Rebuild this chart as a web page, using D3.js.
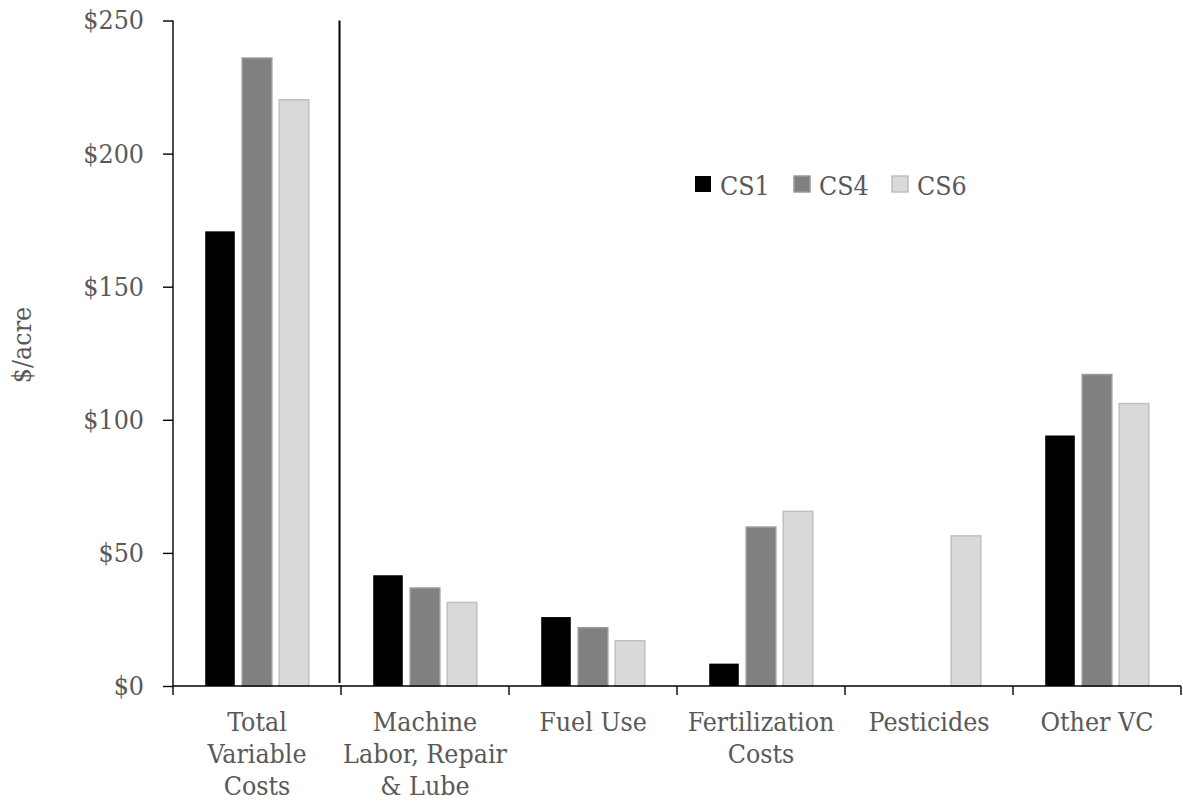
<!DOCTYPE html>
<html>
<head>
<meta charset="utf-8">
<script src="https://cdn.jsdelivr.net/npm/d3@7"></script>
<style>
  body { margin: 0; background: #fff; }
  text { font-family: "DejaVu Serif Condensed", "DejaVu Serif", serif; font-stretch: condensed; fill: #595959; }
</style>
</head>
<body>
<svg id="chart"></svg>
<script>
// data ($/acre)
var categories = ["Total Variable Costs", "Machine Labor, Repair & Lube", "Fuel Use",
                  "Fertilization Costs", "Pesticides", "Other VC"];
var labelLines = [["Total", "Variable", "Costs"], ["Machine", "Labor, Repair", "& Lube"],
                  ["Fuel Use"], ["Fertilization", "Costs"], ["Pesticides"], ["Other VC"]];
var series = ["CS1", "CS4", "CS6"];
var cs1 = [170.8, 41.6, 25.9, 8.4, 0, 94.1];
var cs4 = [235.9, 36.8, 21.9, 59.7, 0, 117.0];
var cs6 = [220.2, 31.4, 17.0, 65.6, 56.4, 106.1];
var yTicks = [0, 50, 100, 150, 200, 250];

var fills = {CS1: "#000000", CS4: "#808080", CS6: "#d9d9d9"};
var strokes = {CS1: "none", CS4: "#9a9a9a", CS6: "#bfbfbf"};
var fontSize = "26.5px";

var values = {CS1: cs1, CS4: cs4, CS6: cs6};
var rows = categories.map(function(c, i) {
  return series.map(function(s) { return {cat: c, key: s, value: values[s][i]}; });
});

var W = 1183, H = 805;
var margin = {top: 20.5, right: 2, bottom: 119, left: 173},
    width = W - margin.left - margin.right,
    height = H - margin.top - margin.bottom;

var svg = d3.select("#chart").attr("width", W).attr("height", H);
var g = svg.append("g")
  .attr("transform", "translate(" + margin.left + "," + margin.top + ")");

var x = d3.scaleBand().domain(categories).range([0, width]).padding(0);
var xs = d3.scaleBand().domain(series).range([0, x.bandwidth()])
  .paddingInner(0.2).paddingOuter(0.87);
var y = d3.scaleLinear().domain([0, 250]).range([height, 0]);

// bars
g.selectAll("g.cat")
  .data(rows)
  .enter().append("g")
    .attr("class", "cat")
    .attr("transform", function(d, i) { return "translate(" + x(categories[i]) + ",0)"; })
  .selectAll("rect")
  .data(function(d) { return d.filter(function(v) { return v.value > 0; }); })
  .enter().append("rect")
    .attr("x", function(d) { return xs(d.key); })
    .attr("y", function(d) { return y(d.value); })
    .attr("width", xs.bandwidth())
    .attr("height", function(d) { return y(0) - y(d.value); })
    .style("fill", function(d) { return fills[d.key]; })
    .style("stroke", function(d) { return strokes[d.key]; })
    .style("stroke-width", 1.5);

// y axis
var yAxis = g.append("g")
  .call(d3.axisLeft(y).tickValues(yTicks).tickSize(10).tickPadding(19)
    .tickFormat(function(d) { return "$" + d; }));
yAxis.attr("font-family", null).attr("font-size", null);
yAxis.select(".domain").attr("d", "M0," + y(250) + "V" + y(0)).attr("stroke", "#000").attr("stroke-width", 1.4);
yAxis.selectAll(".tick line").attr("stroke", "#000").attr("stroke-width", 1.4);
yAxis.selectAll(".tick text")
  .attr("font-size", fontSize)
  .attr("fill", "#595959");

// x axis: line + ticks on the category boundaries
g.append("line")
  .attr("x1", 0).attr("x2", width)
  .attr("y1", y(0)).attr("y2", y(0))
  .attr("stroke", "#000").attr("stroke-width", 1.4);
var bounds = categories.map(function(c) { return x(c); }).concat([width]);
g.selectAll("line.xtick")
  .data(bounds)
  .enter().append("line")
    .attr("class", "xtick")
    .attr("x1", function(d) { return d; }).attr("x2", function(d) { return d; })
    .attr("y1", y(0)).attr("y2", y(0) + 9)
    .attr("stroke", "#000").attr("stroke-width", 1.4);

// separator after total
g.append("line")
  .attr("x1", x(categories[1]) - 1.5).attr("x2", x(categories[1]) - 1.5)
  .attr("y1", y(250)).attr("y2", y(0) - 3)
  .attr("stroke", "#000").attr("stroke-width", 2);

// category labels
g.selectAll("text.xlab")
  .data(labelLines)
  .enter().append("text")
    .attr("class", "xlab")
    .attr("text-anchor", "middle")
    .attr("font-size", fontSize)
    .attr("transform", function(d, i) {
      return "translate(" + (x(categories[i]) + x.bandwidth() / 2) + "," + (y(0) + 45) + ")";
    })
  .selectAll("tspan")
  .data(function(d) { return d; })
  .enter().append("tspan")
    .attr("x", 0)
    .attr("y", function(d, i) { return i * 32; })
    .text(function(d) { return d; });

// y title
svg.append("text")
  .attr("transform", "translate(31,345) rotate(-90)")
  .attr("text-anchor", "middle")
  .attr("font-size", fontSize)
  .text("$/acre");

// legend
var legendX = [695, 794, 892];
var legend = svg.selectAll("g.legend")
  .data(series)
  .enter().append("g")
    .attr("class", "legend")
    .attr("transform", function(d, i) { return "translate(" + legendX[i] + ",176)"; });
legend.append("rect")
  .attr("width", 16).attr("height", 16)
  .style("fill", function(d) { return fills[d]; })
  .style("stroke", function(d) { return strokes[d]; })
  .style("stroke-width", 1.5);
legend.append("text")
  .attr("x", 25).attr("y", 19)
  .attr("font-size", fontSize)
  .text(function(d) { return d; });
</script>
</body>
</html>
